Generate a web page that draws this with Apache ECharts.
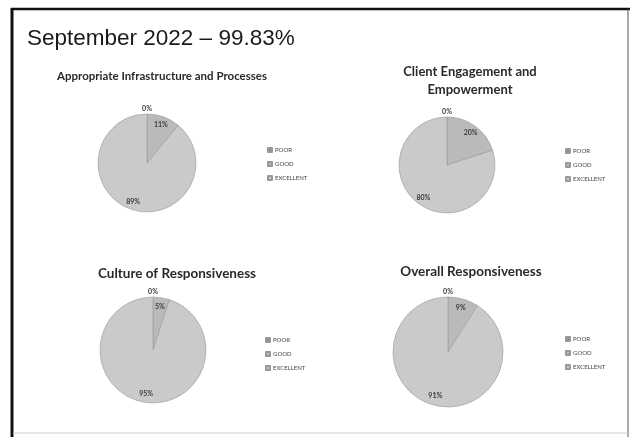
<!DOCTYPE html>
<html lang="en">
<head>
    <meta charset="UTF-8">
    <title>September 2022</title>
    <script src="https://cdn.jsdelivr.net/npm/echarts@6/dist/echarts.min.js"></script>
    <style>
        html, body { margin: 0; padding: 0; background: #fff; }
        #main { width: 630px; height: 437px; }
    </style>
</head>
<body>
    <div id="main"></div>
    <script>
        // ratings, shared by every pie
        var ratings = ['POOR', 'GOOD', 'EXCELLENT'];

        // percentages
        var infrastructure = [0, 11, 89];
        var engagement = [0, 20, 80];
        var culture = [0, 5, 95];
        var overall = [0, 9, 91];

        var chartTitles = [
            'Appropriate Infrastructure and Processes',
            'Client Engagement and\nEmpowerment',
            'Culture of Responsiveness',
            'Overall Responsiveness'
        ];
        var values = [infrastructure, engagement, culture, overall];

        // where each panel sits
        var panels = [
            { cx: 147, cy: 163, r: 49, tx: 162, ty: 69, fs: 11.5, lx: 267, ly: 147 },
            { cx: 447, cy: 165, r: 48, tx: 470, ty: 63, fs: 13, lx: 565, ly: 148 },
            { cx: 153, cy: 350, r: 53, tx: 177, ty: 265, fs: 13.5, lx: 265, ly: 337 },
            { cx: 448, cy: 352, r: 55, tx: 471, ty: 263, fs: 13.5, lx: 565, ly: 336 }
        ];

        var colors = ['#8c8c8c', '#bababa', '#cacaca'];
        var labelFont = { fontSize: 7, fontWeight: 'bold', color: '#3a3a3a', fontFamily: 'Lato' };

        var chartDom = document.getElementById('main');
        var myChart = echarts.init(chartDom);

        var titles = [{
            text: 'September 2022 \u2013 99.83%',
            left: 27,
            top: 27,
            padding: 0,
            textStyle: { fontFamily: 'Liberation Sans', fontSize: 22.5, fontWeight: 'normal', color: '#1a1a1a' }
        }];
        var legends = [];
        var series = [];

        panels.forEach(function (p, i) {
            titles.push({
                text: chartTitles[i],
                left: p.tx,
                top: p.ty,
                padding: 0,
                textAlign: 'center',
                textStyle: { fontFamily: 'Lato', fontSize: p.fs, fontWeight: 'bold', color: '#2a2a2a', lineHeight: p.fs * 1.35 }
            });
            legends.push({
                orient: 'vertical',
                left: p.lx,
                top: p.ly,
                padding: 0,
                data: ratings,
                icon: 'rect',
                itemWidth: 4,
                itemHeight: 4,
                itemGap: 8,
                selectedMode: false,
                textStyle: { fontSize: 6, color: '#444', fontFamily: 'Lato', padding: [0, 0, 0, -2] }
            });
            var data = ratings.map(function (name, k) {
                return { name: name, value: values[i][k] };
            });
            // the pie itself
            series.push({
                type: 'pie',
                center: [p.cx, p.cy],
                radius: [0, p.r],
                startAngle: 90,
                silent: true,
                color: colors,
                itemStyle: { borderColor: '#999', borderWidth: 0.6 },
                label: { show: false },
                labelLine: { show: false },
                data: data
            });
            // labels for the slices, placed near the rim
            series.push({
                type: 'pie',
                center: [p.cx, p.cy],
                radius: [p.r * 0.55, p.r],
                startAngle: 90,
                silent: true,
                legendHoverLink: false,
                itemStyle: { color: 'transparent' },
                label: Object.assign({ show: true, position: 'inside', formatter: '{c}%' }, labelFont),
                labelLine: { show: false },
                data: data.map(function (d, k) {
                    return { name: d.name, value: d.value, label: { show: k > 0 } };
                })
            });
            // the 0% label sits just above the pie
            series.push({
                type: 'pie',
                center: [p.cx, p.cy],
                radius: [p.r * 0.98, p.r * 1.12],
                startAngle: 90,
                silent: true,
                legendHoverLink: false,
                itemStyle: { color: 'transparent' },
                label: Object.assign({ show: true, position: 'inside', formatter: '{c}%' }, labelFont),
                labelLine: { show: false },
                data: data.map(function (d, k) {
                    return { name: d.name, value: d.value, label: { show: k === 0 } };
                })
            });
        });

        myChart.setOption({
            animation: false,
            backgroundColor: '#fff',
            title: titles,
            legend: legends,
            series: series,
            graphic: [
                { type: 'line', shape: { x1: 11, y1: 9, x2: 630, y2: 9 }, style: { stroke: '#111', lineWidth: 2.5 } },
                { type: 'line', shape: { x1: 12, y1: 8, x2: 12, y2: 437 }, style: { stroke: '#111', lineWidth: 3 } },
                { type: 'line', shape: { x1: 628, y1: 9, x2: 628, y2: 437 }, style: { stroke: '#555', lineWidth: 1 } },
                { type: 'line', shape: { x1: 13, y1: 433, x2: 630, y2: 433 }, style: { stroke: '#ccc', lineWidth: 1 } }
            ]
        });
    </script>
</body>
</html>
